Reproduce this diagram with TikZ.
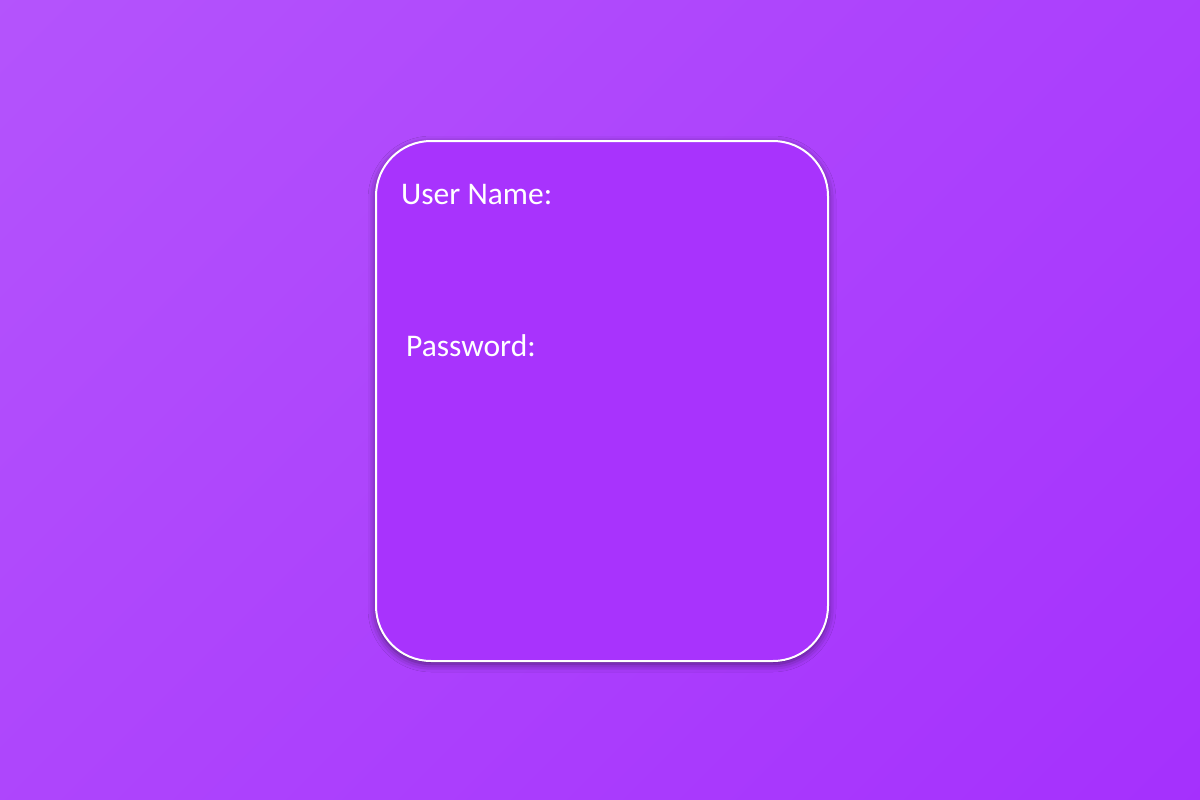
\documentclass[tikz,border=0pt]{standalone}
\usepackage{fontspec}
\setmainfont{Carlito}
\usetikzlibrary{shadows.blur}
\definecolor{bglight}{HTML}{B556FC}
\definecolor{bgdark}{HTML}{A42EFD}
\definecolor{cardfill}{HTML}{A833FD}
\tikzset{
	card/.style={draw=white, line width=2pt, fill=cardfill, rounded corners=55pt,
		blur shadow={shadow xshift=0pt, shadow yshift=-3pt, shadow blur radius=8pt, shadow opacity=55}}, % the login card
	field/.style={anchor=base west, text=white, font=\fontsize{31.5}{36}\selectfont, inner sep=0pt}, % labels on the card
}
\begin{document}
\begin{tikzpicture}[x=1pt, y=-1pt]
	\useasboundingbox (0,0) rectangle (1200,800);
	\begin{scope}
		\clip (0,0) rectangle (1200,800);
		\shade[top color=bglight, bottom color=bgdark, shading angle=45] (-200,-400) rectangle (1400,1200);
	\end{scope}
	\node[card, minimum width=452pt, minimum height=520pt, anchor=north west] (login) at (375,140) {};
	\node[field] (user) at (401,204) {User Name:};
	\node[field] (pass) at (406,356) {Password:};
\end{tikzpicture}
\end{document}
